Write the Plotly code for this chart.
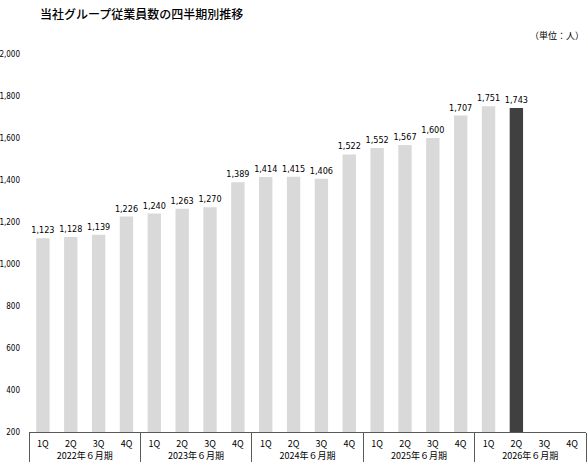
import plotly.graph_objects as go

years = ["2022年６月期"] * 4 + ["2023年６月期"] * 4 + ["2024年６月期"] * 4 + ["2025年６月期"] * 4 + ["2026年６月期"] * 4
quarters = ["1Q", "2Q", "3Q", "4Q"] * 5
values = [1123, 1128, 1139, 1226, 1240, 1263, 1270, 1389, 1414, 1415, 1406, 1522,
          1552, 1567, 1600, 1707, 1751, 1743, None, None]
highlight_index = 17
y_ticks = [200, 400, 600, 800, 1000, 1200, 1400, 1600, 1800, 2000]

colors = ["#404040" if i == highlight_index else "#d9d9d9" for i in range(len(values))]
labels = [f"{v:,}" if v is not None else "" for v in values]

font_num = "DejaVu Sans Condensed, Noto Sans CJK JP, sans-serif"
font_jp = "Noto Sans CJK JP, sans-serif"

fig = go.Figure(go.Bar(
    x=[years, quarters],
    y=values,
    marker=dict(color=colors, line=dict(width=0)),
    text=labels,
    textposition="outside",
    constraintext="none",
    textfont=dict(family=font_num, size=9, color="#000000"),
    cliponaxis=False,
    width=0.48,
    hoverinfo="skip",
))

fig.update_layout(
    width=588, height=466,
    margin=dict(l=29, r=2, t=54, b=34, autoexpand=False),
    paper_bgcolor="white", plot_bgcolor="white",
    showlegend=False,
    font=dict(family=font_jp, size=9, color="#000000"),
    annotations=[
        dict(text="当社グループ従業員数の四半期別推移", xref="paper", yref="paper",
             x=(38 - 29) / 557, y=1 + (54 - 13) / 378, xanchor="left", yanchor="middle",
             showarrow=False, font=dict(family=font_jp, size=12, color="#000000", weight=500)),
        dict(text="（単位：人）", xref="paper", yref="paper",
             x=1, y=1 + (54 - 36) / 378, xanchor="right", yanchor="middle",
             showarrow=False, font=dict(family=font_jp, size=9, color="#000000")),
    ],
)

fig.update_xaxes(
    type="multicategory",
    automargin=False,
    showline=True, linecolor="#595959", linewidth=1,
    showdividers=True, dividercolor="#595959", dividerwidth=1,
    ticks="", showgrid=False, ticklabelstandoff=3,
    tickfont=dict(family=font_jp, size=9, color="#000000"),
)
fig.update_yaxes(
    range=[200, 2000],
    automargin=False,
    tickvals=y_ticks,
    ticktext=[f"{v:,}" for v in y_ticks],
    showgrid=False, showline=False, zeroline=False,
    ticks="", ticklabelstandoff=8,
    tickfont=dict(family=font_num, size=8, color="#000000"),
)

fig.write_html("out.html", config={"displayModeBar": False})
with open("out.html", encoding="utf-8") as f:
    html = f.read()
html = html.replace("<head>", "<head><style>html,body{margin:0;padding:0;overflow:hidden;}</style>", 1)
with open("out.html", "w", encoding="utf-8") as f:
    f.write(html)
